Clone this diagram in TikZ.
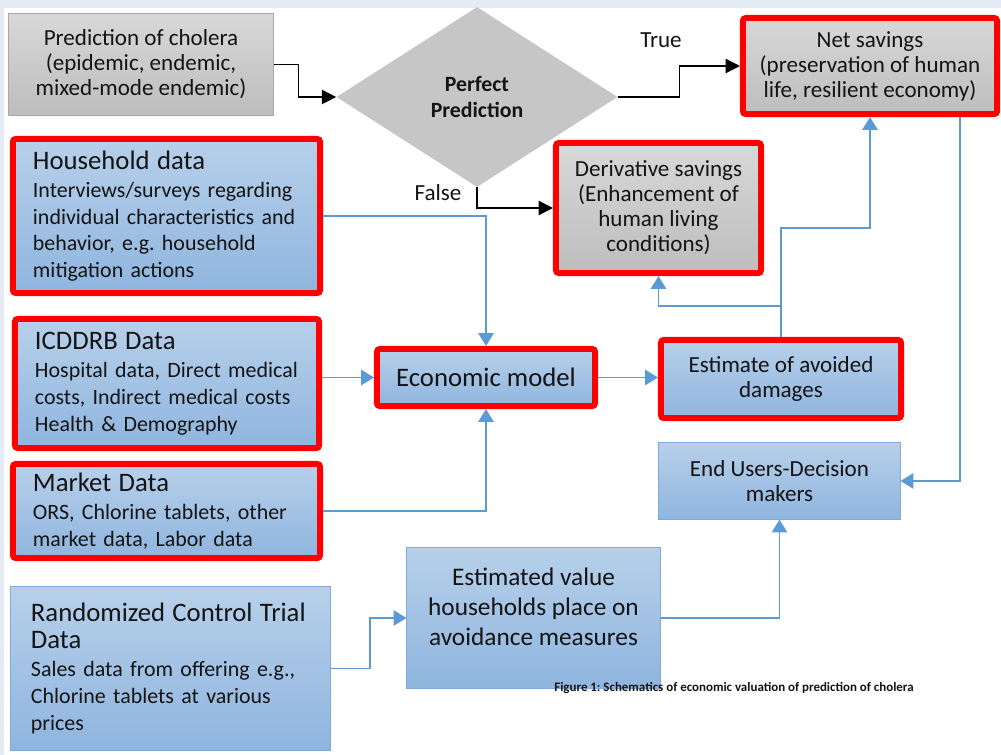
\documentclass[tikz,border=0pt]{standalone}
\usepackage{fontspec}
\setmainfont{Carlito}
\usetikzlibrary{arrows.meta, shapes.geometric}

\definecolor{bgblue}{HTML}{E4EBF4}
\definecolor{bluetop}{HTML}{B7D0EA}
\definecolor{bluebot}{HTML}{8FB5DF}
\definecolor{blueedge}{HTML}{7FABDB}
\definecolor{greytop}{HTML}{D8D8D8}
\definecolor{greybot}{HTML}{BDBDBD}
\definecolor{greyedge}{HTML}{A8A8A8}
\definecolor{diamondgrey}{HTML}{C6C6C6}
\definecolor{linkblue}{HTML}{5B9BD5}
\definecolor{ink}{HTML}{141414}

\newcommand{\titlesize}{\fontsize{19pt}{22pt}\selectfont}
\newcommand{\bodysize}{\fontsize{15.6pt}{19pt}\selectfont}
\newcommand{\greysize}{\fontsize{16.4pt}{17.8pt}\selectfont}
\frenchspacing

\tikzset{
  bluebox/.style={draw=blueedge, line width=0.7pt, top color=bluetop, bottom color=bluebot, text=ink},
  greybox/.style={draw=greyedge, line width=0.7pt, top color=greytop, bottom color=greybot, text=ink},
  redframe/.style={draw=red, line width=0.15cm, rounded corners=0.07cm},
  leftbox/.style={align=left, inner xsep=0.5cm, text width=#1},
  bluelink/.style={draw=linkblue, line width=1.4pt, -{Triangle[width=0.38cm,length=0.32cm]}},
  blacklink/.style={draw=black, line width=0.9pt, -{Triangle[width=0.36cm,length=0.36cm]}},
}

\begin{document}
\begin{tikzpicture}[x=0.025cm, y=-0.025cm]
    \fill[bgblue] (0,0) rectangle (1001,755);
    \fill[white] (4,8) rectangle (1001,755);
    \useasboundingbox (0,0) rectangle (1001,755);

    \node[greybox, minimum width=6.6cm, minimum height=2.525cm, align=center, font=\greysize] (pred) at (141,64.5)
        {Prediction of cholera\\(epidemic, endemic,\\mixed-mode endemic)};
    \node[diamond, fill=diamondgrey, minimum width=7.025cm, minimum height=4.5cm, inner sep=0pt,
        align=center, text=ink, font=\fontsize{15.5pt}{18.5pt}\selectfont\bfseries] (dec) at (477,97) {Perfect\\Prediction};
    \node[greybox, redframe, minimum width=6.35cm, minimum height=2.4cm, align=center, font=\greysize] (net) at (870,66)
        {Net savings\\(preservation of human\\life, resilient economy)};
    \node[greybox, redframe, minimum width=5.125cm, minimum height=3.25cm, align=center, font=\greysize] (deriv) at (658.5,208)
        {Derivative savings\\(Enhancement of\\human living\\conditions)};

    \node[bluebox, redframe, minimum width=7.675cm, minimum height=3.85cm, leftbox=6.675cm, font=\bodysize] (house) at (166.5,216)
        {{\titlesize Household data}\\[1pt]Interviews/surveys regarding\\individual characteristics and\\behavior, e.g. household\\mitigation actions};
    \node[bluebox, redframe, minimum width=7.6cm, minimum height=3.225cm, leftbox=6.6cm, font=\bodysize] (icddrb) at (167,383.5)
        {{\titlesize ICDDRB Data}\\[1pt]Hospital data, Direct medical\\costs, Indirect medical costs\\Health \& Demography};
    \node[bluebox, redframe, minimum width=7.675cm, minimum height=2.35cm, leftbox=6.675cm, font=\bodysize] (market) at (166.5,511)
        {{\titlesize Market Data}\\[1pt]ORS, Chlorine tablets, other\\market data, Labor data};
    \node[bluebox, minimum width=7.975cm, minimum height=4.075cm, leftbox=6.975cm, font=\bodysize] (rct) at (170.5,668.5)
        {{\titlesize Randomized Control Trial\\Data}\\[1pt]Sales data from offering e.g.,\\Chlorine tablets at various\\prices};

    \node[bluebox, redframe, minimum width=5.45cm, minimum height=1.425cm, font=\fontsize{19pt}{22pt}\selectfont] (econ) at (486,377.5)
        {Economic model};
    \node[bluebox, redframe, minimum width=6cm, minimum height=1.95cm, align=center, font=\greysize] (estim) at (781,379)
        {Estimate of avoided\\damages};
    \node[bluebox, minimum width=6.025cm, minimum height=1.9cm, align=center, font=\greysize] (users) at (779.5,481)
        {End Users-Decision\\makers};
    \node[bluebox, minimum width=6.325cm, minimum height=3.5cm, align=center, font=\fontsize{18pt}{21.3pt}\selectfont] (estval) at (533.5,618)
        {Estimated value\\households place on\\avoidance measures\\[-0.2cm]\mbox{}};

    \node[text=ink, font=\fontsize{16.4pt}{18pt}\selectfont] (truelbl) at (661,40) {True};
    \node[text=ink, font=\fontsize{16.4pt}{18pt}\selectfont] (falselbl) at (438,193) {False};
    \node[text=ink, font=\fontsize{9.2pt}{10pt}\selectfont\bfseries] (caption) at (734,688)
        {Figure 1: Schematics of economic valuation of prediction of cholera};

    \draw[blacklink] (pred.east) -- ++(25,0) |- (dec.west);
    \draw[blacklink] (dec.east) -- ++(62,0) |- (net.west);
    \draw[blacklink] (dec.south) |- (deriv.west);

    \draw[bluelink] (house.east) -| (econ.north);
    \draw[bluelink] (icddrb.east |- econ.west) -- (econ.west);
    \draw[bluelink] (market.east) -| (econ.south);
    \draw[bluelink] (econ.east) -- (econ.east -| estim.west);
    \draw[bluelink] (estim.north) -- ++(0,-31) coordinate (split) -| (deriv.south);
    \draw[bluelink] (split) -- ++(0,-78) -| (net.south);
    \draw[bluelink] ([xshift=2.25cm]net.south) |- (users.east);
    \draw[bluelink] (rct.east) -- ++(39,0) |- (estval.west);
    \draw[bluelink] (estval.east) -| (users.south);
\end{tikzpicture}
\end{document}
